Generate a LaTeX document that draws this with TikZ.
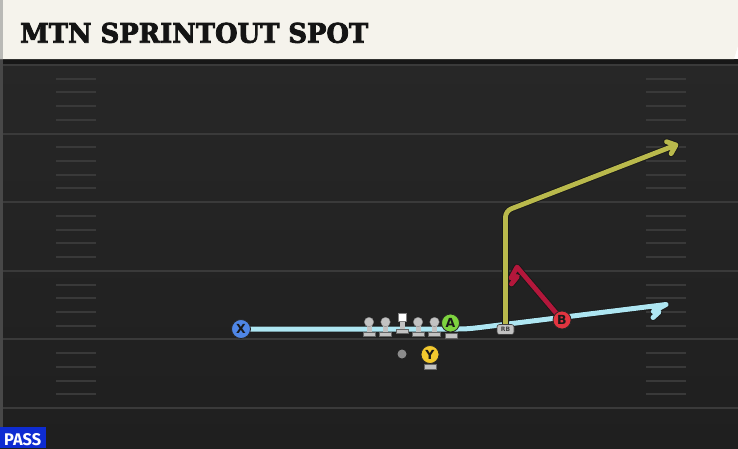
\documentclass[tikz,border=0pt]{standalone}
\usepackage{fontspec}
\usepackage{graphicx}
\newfontfamily\titlefont{DejaVu Serif}[BoldFeatures={FakeBold=3}]
\newfontfamily\labelfont{DejaVu Sans}
\newfontfamily\passfont{Fira Sans}
\definecolor{fieldtop}{HTML}{272727}
\definecolor{fieldbot}{HTML}{1F1F1F}
\definecolor{fline}{HTML}{3A3A3A}
\definecolor{hashc}{HTML}{393939}
\definecolor{bannerc}{HTML}{F5F3EC}
\definecolor{bannerside}{HTML}{B9B9B6}
\definecolor{shadowc}{HTML}{171717}
\definecolor{borderc}{HTML}{484848}
\definecolor{pgray}{HTML}{C2C2C2}
\definecolor{qbgray}{HTML}{8C8C8C}
\definecolor{cblue}{HTML}{AEE6F2}
\definecolor{cyellow}{HTML}{B9B94C}
\definecolor{cred}{HTML}{B3173B}
\definecolor{xblue}{HTML}{4F86E6}
\definecolor{agreen}{HTML}{7ED43F}
\definecolor{bred}{HTML}{E23540}
\definecolor{yyellow}{HTML}{F3C92E}
\definecolor{passblue}{HTML}{0E2CD2}
\pgfdeclarelayer{field}
\pgfdeclarelayer{routes}
\pgfsetlayers{field,routes,main}
\begin{document}
\begin{tikzpicture}[x=1pt,y=-1pt,
  fieldline/.style={draw=fline, line width=2pt},
  hashmark/.style={draw=hashc, line width=2pt},
  outl/.style={draw=black!90, line width=6.6pt, line join=round, line cap=round},
  routeblue/.style={draw=cblue, line width=5pt, line join=round, line cap=round, preaction={outl}},
  routeyellow/.style={draw=cyellow, line width=4.8pt, line join=round, line cap=round, preaction={outl}},
  routered/.style={draw=cred, line width=4.8pt, line join=round, line cap=round, preaction={outl}},
  player/.style={circle, draw=black!85, line width=0.8pt, minimum size=18pt, inner sep=0pt,
    font=\labelfont\bfseries\fontsize{12.5}{12.5}\selectfont, text=black!90},
  standbar/.style={rectangle, fill=pgray, draw=black!60, line width=0.4pt, minimum width=12pt,
    minimum height=4.5pt, inner sep=0pt},
  rbbox/.style={rectangle, rounded corners=2.5pt, fill=pgray, draw=black!75, line width=0.6pt,
    minimum width=17pt, minimum height=10pt, inner sep=0pt,
    font=\labelfont\bfseries\fontsize{6}{6}\selectfont, text=black!75},
  lineman/.pic={
    \fill[pgray] (-2.5,0) rectangle (2.5,10);
    \node[standbar] (-base) at (0,12) {};
    \node[circle, fill=pgray, draw=black!50, line width=0.3pt, minimum size=9.5pt, inner sep=0pt] (-head) at (0,0) {};
  },
  centerman/.pic={
    \fill[pgray] (-2.5,0) rectangle (2.5,12);
    \node[standbar] (-base) at (0,14) {};
    \node[rectangle, fill=white, draw=black!50, line width=0.3pt, minimum size=8.5pt, inner sep=0pt] (-head) at (0,0) {};
  }
]
\useasboundingbox (0,0) rectangle (738,448);

\begin{pgfonlayer}{field}
  \shade[top color=fieldtop, bottom color=fieldbot] (0,59) rectangle (738,448);
  \fill[shadowc] (0,59) rectangle (738,63.5);
  \foreach \k in {0,...,5} {
    \draw[fieldline] (0,{65+68.6*\k}) -- (738,{65+68.6*\k});
  }
  \foreach \k in {0,...,4} {
    \foreach \j in {1,...,4} {
      \draw[hashmark] (56,{65+68.6*\k+13.72*\j}) -- (96,{65+68.6*\k+13.72*\j});
      \draw[hashmark] (646,{65+68.6*\k+13.72*\j}) -- (686,{65+68.6*\k+13.72*\j});
    }
  }
  \draw[draw=borderc, line width=2.5pt] (1.25,59) -- (1.25,448);
  \fill[bannerc] (0,0) -- (738,0) -- (738,46) -- (734,59) -- (0,59) -- cycle;
  \fill[bannerside] (0,0) rectangle (3,59);
\end{pgfonlayer}

% title and label
\node[anchor=base west, inner sep=0pt, text=black!92] (title) at (20,42.7)
  {\resizebox{348pt}{20pt}{\titlefont\bfseries MTN SPRINTOUT SPOT}};
\fill[passblue] (0,427) rectangle (45.5,448);
\node[anchor=base west, inner sep=0pt, text=white] (pass) at (4,445)
  {\resizebox{37pt}{12pt}{\passfont\bfseries PASS}};

% offensive line
\pic (L1) at (369,322) {lineman};
\pic (L2) at (385.5,322) {lineman};
\pic (C) at (402,317) {centerman};
\pic (L4) at (418,322) {lineman};
\pic (L5) at (434.5,322) {lineman};

% players
\node[standbar] (Abar) at (451,335.5) {};
\node[player, fill=agreen] (A) at (450.5,323) {A};
\node[standbar] (Ybar) at (430.5,366.5) {};
\node[player, fill=yyellow] (Y) at (430,354.5) {Y};
\node[player, fill=xblue, minimum size=19pt] (X) at (241,329) {X};
\node[player, fill=bred] (B) at (562,320) {B};
\node[rbbox] (RB) at (505.5,329.5) {RB};
\node[circle, fill=qbgray, minimum size=9pt, inner sep=0pt] (QB) at (402,354) {};

% route end points
\coordinate (bluetip) at (666,304.5);
\coordinate (ycorner) at (505.5,211);
\coordinate (ytip) at (676,145);
\coordinate (ya1) at (666.5,141.7);
\coordinate (ya2) at (671.1,153.7);
\coordinate (rtip) at (517,267);

\begin{pgfonlayer}{routes}
  \draw[routeblue] (X.center) -- (452,329) .. controls (466,329) .. (478,327.7) -- (bluetip)
    -- (653,311.5) -- (659,312) -- (653,317.5);
  \draw[routeyellow] (RB.north) [rounded corners=6pt] -- (ycorner) -- (ytip)
    [sharp corners] (ya1) -- (ytip) -- (ya2);
  \draw[routered] (B.center) -- (rtip) -- (511,278) -- (517.5,276.5) -- (511.5,284);
\end{pgfonlayer}
\end{tikzpicture}
\end{document}
